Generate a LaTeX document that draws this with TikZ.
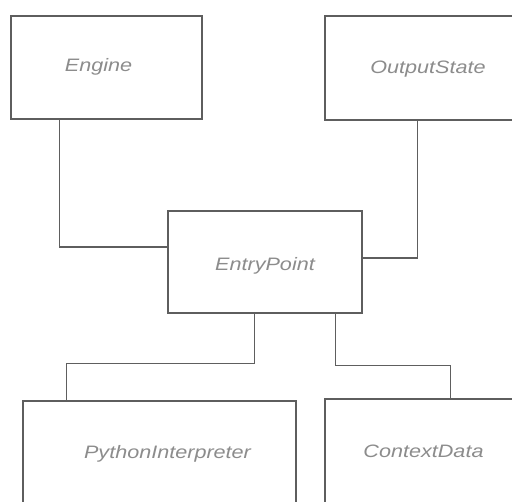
\documentclass[tikz,border=0pt]{standalone}
\usepackage{fontspec}
\usetikzlibrary{calc}
\newfontfamily\lblfont[FakeStretch=1.2]{Liberation Sans}
\definecolor{edgegray}{HTML}{5E5E5E}
\definecolor{textgray}{HTML}{8C8C8C}
\begin{document}
\begin{tikzpicture}[x=1pt,y=-1pt,
  box/.style={draw=edgegray, line width=1.5pt, fill=white, rectangle, inner sep=0pt},
  lbl/.style={anchor=base, inner sep=0pt, text=textgray, font=\lblfont\itshape\fontsize{18}{20}\selectfont},
  link/.style={draw=edgegray, line width=1.5pt}]
  \useasboundingbox (0,0) rectangle (512,502);
  \clip (0,0) rectangle (512,502);

  % class boxes
  \node[box, minimum width=191pt, minimum height=103pt] (engine)  at (106.5,67.5) {};
  \node[box, minimum width=205pt, minimum height=104pt] (output)  at (427.5,68) {};
  \node[box, minimum width=194pt, minimum height=102pt] (entry)   at (265,262) {};
  \node[box, minimum width=273pt, minimum height=119pt] (python)  at (159.5,460.5) {};
  \node[box, minimum width=205pt, minimum height=121pt] (context) at (427.5,459.5) {};

  % box titles
  \node[lbl] (engineT)  at (98.5,72)  {Engine};
  \node[lbl] (outputT)  at (428,74)   {OutputState};
  \node[lbl] (entryT)   at (265,271)  {EntryPoint};
  \node[lbl] (pythonT)  at (167.5,459) {PythonInterpreter};
  \node[lbl] (contextT) at (423.5,458) {ContextData};

  % orthogonal connectors
  \draw[link] ($(engine.south west)+(49,0)$) |- ($(entry.north west)+(0,37)$);
  \draw[link] ($(output.south west)+(93,0)$) |- ($(entry.north east)+(0,48)$);
  \draw[link] ($(entry.south west)+(87,0)$) -- ++(0,50) -| ($(python.north west)+(44,0)$);
  \draw[link] ($(entry.south west)+(168,0)$) -- ++(0,52) -| ($(context.north west)+(126,0)$);
\end{tikzpicture}
\end{document}
